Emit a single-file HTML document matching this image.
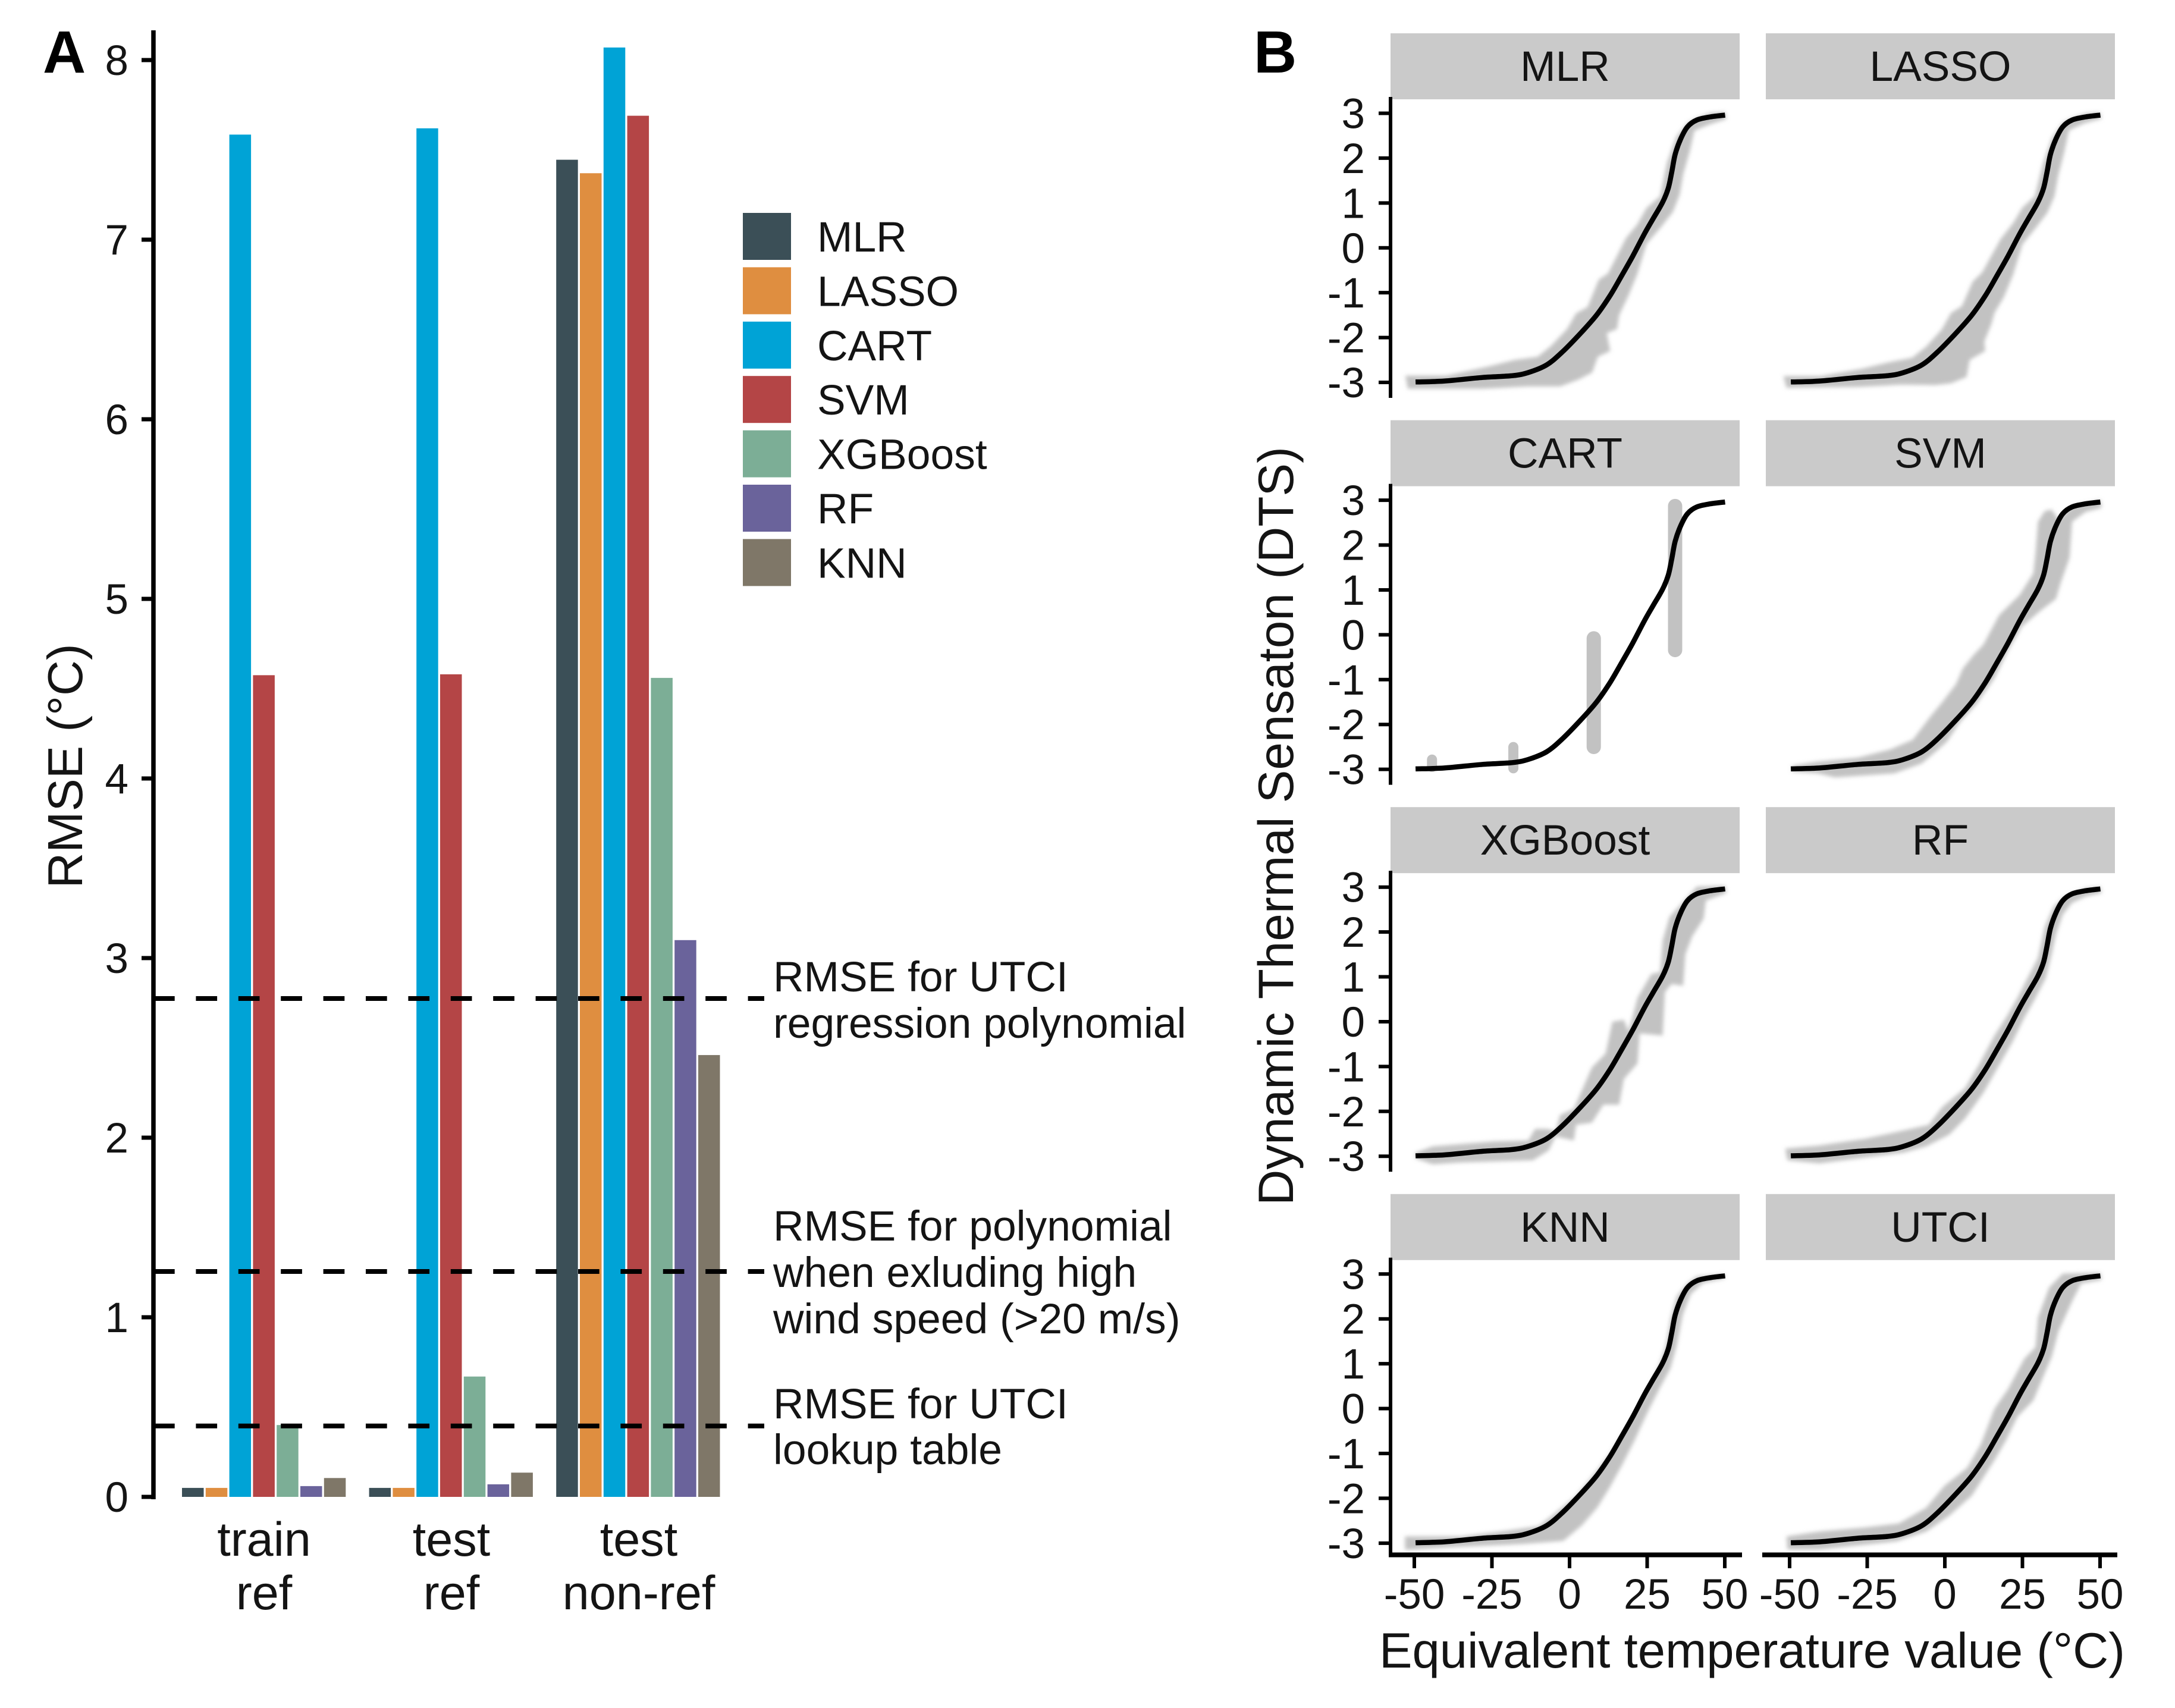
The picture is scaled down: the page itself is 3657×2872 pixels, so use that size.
<!DOCTYPE html>
<html lang="en">
<head>
<meta charset="utf-8">
<title>RMSE by model and dynamic thermal sensation panels</title>
<style>
html,body{margin:0;padding:0;background:#fff;}
svg{display:block;}
text{font-family:"Liberation Sans",sans-serif;fill:#141414;}
</style>
</head>
<body>
<svg id="fig" xmlns="http://www.w3.org/2000/svg" width="3657" height="2872" viewBox="0 0 3657 2872">
  <defs>
    <filter id="soft" x="-10%" y="-10%" width="120%" height="120%"><feGaussianBlur stdDeviation="3.5"/></filter>
  </defs>
  <rect width="3657" height="2872" fill="#fff"/>
  <text x="72" y="122" font-size="100" font-weight="bold" style="fill:#000">A</text>
  <text x="2108" y="122" font-size="100" font-weight="bold" style="fill:#000">B</text>
  <text transform="translate(138,1288) rotate(-90)" text-anchor="middle" font-size="83">RMSE (°C)</text>
  <g id="bars"></g>
  <g id="aAxis"></g>
  <g id="refs"></g>
  <g font-size="81" text-anchor="middle">
    <text x="444" y="2616">train</text>
    <text x="444" y="2706">ref</text>
    <text x="759" y="2616">test</text>
    <text x="759" y="2706">ref</text>
    <text x="1074" y="2616">test</text>
    <text x="1074" y="2706">non-ref</text>
  </g>
  <g font-size="71.4">
    <text x="1300" y="1667">RMSE for UTCI</text>
    <text x="1300" y="1745">regression polynomial</text>
    <text x="1300" y="2086">RMSE for polynomial</text>
    <text x="1300" y="2164">when exluding high</text>
    <text x="1300" y="2242">wind speed (&gt;20 m/s)</text>
    <text x="1300" y="2385">RMSE for UTCI</text>
    <text x="1300" y="2462">lookup table</text>
  </g>
  <g id="legend"></g>
  <g id="panels"></g>
  <text transform="translate(2174,1389) rotate(-90)" text-anchor="middle" font-size="83.6">Dynamic Thermal Sensaton (DTS)</text>
  <text x="2946" y="2804" text-anchor="middle" font-size="83.2">Equivalent temperature value (°C)</text>
</svg>
<script>
// Panel A data
const modelNames = ["MLR","LASSO","CART","SVM","XGBoost","RF","KNN"];
const modelColors = ["#3b4f57","#df8e40","#00a3d6","#b44546","#7cae96","#6a639b","#7f7768"];
const trainRef = [0.05,0.05,7.585,4.575,0.40,0.06,0.105];
const testRef = [0.05,0.05,7.62,4.58,0.67,0.07,0.135];
const testNonRef = [7.445,7.37,8.07,7.69,4.56,3.10,2.46];
const rmseTicks = [0,1,2,3,4,5,6,7,8];
const refLineValues = [2.775,1.255,0.395];

// Panel B data
const panelNames = ["MLR","LASSO","CART","SVM","XGBoost","RF","KNN","UTCI"];
const dtsTicks = [-3,-2,-1,0,1,2,3];
const tempTicks = [-50,-25,0,25,50];
const curveT = [-49.6,-40.4,-28,-18.4,-13.3,-7.4,-2.3,3.6,8.7,13.1,16.8,20.4,24.1,27,30,31.8,32.9,34,35.8,38,41,45.4,50.1];
const curveV = [-2.99,-2.97,-2.89,-2.85,-2.78,-2.61,-2.32,-1.9,-1.5,-1.06,-0.62,-0.18,0.31,0.66,1.02,1.33,1.68,2.08,2.43,2.7,2.85,2.92,2.96];

const mlrHullT = [-52.9,-39.7,-26.5,-17.7,-10.3,-6,-0.8,2.1,5.8,9.4,12.4,18.2,21.9,24.8,29.2,31.4,34.4,38,41,45.4,50.1,50.5,45.4,40.2,38.8,36.6,35.5,33.3,29.2,24.8,21.9,19,16,15.3,12,13.1,9.1,7.3,2.8,-3,-13.3,-28,-52.1];
const mlrHullV = [-2.85,-2.85,-2.65,-2.5,-2.43,-2.19,-1.81,-1.46,-1.32,-0.71,-0.57,0.22,0.53,0.89,1.15,1.9,2.48,2.79,2.9,3.01,3.03,2.87,2.76,2.61,2.17,1.64,1.19,0.8,0.44,0.09,-0.57,-1.06,-1.5,-1.81,-1.9,-2.3,-2.43,-2.78,-2.94,-3.09,-3.09,-3.14,-3.14];
const lassoHullT = [-52,-40,-27,-18,-10.5,-6,-1,2,5.5,9,12,18,22,25,29,31.5,34.5,38,41,45.4,50,50.4,45,40,38.5,36.5,35.3,33,29,25,22,19,16,15,12.7,13,8,7,2,-3,-14,-28,-51];
const lassoHullV = [-2.86,-2.86,-2.7,-2.55,-2.45,-2.2,-1.82,-1.45,-1.3,-0.75,-0.55,0.2,0.55,0.9,1.15,1.85,2.45,2.8,2.9,3,3.02,2.88,2.78,2.62,2.15,1.6,1.15,0.78,0.42,0.08,-0.6,-1.1,-1.45,-1.7,-2.09,-2.3,-2.5,-2.88,-3.02,-3.06,-3.05,-3.1,-3.12];
const svmHullT = [-49.2,-41.1,-28,-17.7,-10.3,-4.5,-0.8,3.6,5.8,9.4,12.4,17.5,24.1,28.5,29.2,30,32.2,34.4,36.6,41,50.1,50.5,45.4,41,40.2,37.3,35.8,30.7,24.8,20.4,16,10.2,5,0.6,-3,-7.4,-16.2,-35.3,-41.1,-49.2];
const svmHullV = [-2.92,-2.83,-2.74,-2.56,-2.34,-1.81,-1.5,-1.1,-0.75,-0.44,-0.22,0.44,0.89,1.37,1.81,2.52,2.76,2.79,2.57,2.87,3.01,2.83,2.74,2.52,1.72,1.15,0.8,0.53,0.18,-0.35,-0.97,-1.55,-1.94,-2.39,-2.61,-2.87,-3.09,-3.18,-3.09,-3.05];
const xgbHullT = [-49.6,-44.1,-24.3,-13.3,-11.1,-7.4,-4.5,-3,1.4,7.2,11.6,13.8,17.5,19,21.9,23.4,26.3,29.2,30,32.2,35.8,41,50.1,50.5,43.9,43.2,39.5,37.3,36.6,32.9,30.7,30,22.6,21.9,17.5,16,10.9,7.2,2.1,1.4,-4.5,-6.7,-11.8,-35.3,-44.1,-49.6];
const xgbHullV = [-2.92,-2.78,-2.67,-2.65,-2.39,-2.39,-2.43,-2.08,-1.94,-1.02,-0.71,0,0.04,-0.22,0.53,0.71,1.06,1.11,1.81,2.34,2.61,3.01,3.03,2.87,2.7,2.3,1.9,1.5,0.8,0.84,0.66,-0.31,-0.26,-0.93,-1.28,-1.85,-1.85,-2.25,-2.3,-2.65,-2.56,-2.87,-3.09,-3.14,-3.18,-3.05];
const rfHullT = [-51.4,-40.4,-25.7,-16.2,-5.2,-0.8,6.5,10.9,16,19.7,23.4,27,30,32.2,35.1,38.8,45.4,50.1,50.5,45.4,41,38,35.8,34.4,32.5,28.5,25.6,21.9,17.5,12.4,6.5,1.4,-6,-13.3,-28,-40.4,-50.7];
const rfHullV = [-2.83,-2.76,-2.61,-2.47,-2.3,-1.9,-1.48,-0.97,-0.31,0.09,0.53,1.02,1.42,2.12,2.57,2.81,2.98,3.01,2.87,2.79,2.65,2.39,1.95,1.5,0.97,0.44,0.09,-0.44,-0.97,-1.59,-2.16,-2.52,-2.78,-2.92,-3.05,-3.16,-3.09];
const knnHullT = [-53,-35,-20,-10,-5,2,8,13,17,21,25,29,31,32.5,34.5,38,41,50,50,43,39,36.5,34.5,32.5,29,25,21,17,13,9,4,-2,-15,-35,-53];
const knnHullV = [-2.85,-2.85,-2.72,-2.62,-2.35,-1.95,-1.45,-1,-0.55,-0.1,0.4,1,1.4,2,2.5,2.8,2.95,3,2.9,2.8,2.55,2.1,1.4,0.9,0.45,-0.1,-0.7,-1.25,-1.75,-2.2,-2.6,-2.95,-3.02,-3.08,-3.15];
const utciHullT = [-51,-40.4,-25.7,-14.8,-6,-0.1,7.2,11.6,16,20.4,25.6,29.2,30,33.6,38,50.1,50.5,43.9,41,36.6,34.4,31.4,28.5,23.4,19.7,16,8.7,1.4,-6,-15.5,-28,-40.4,-50.7];
const utciHullV = [-2.85,-2.74,-2.65,-2.56,-2.21,-1.72,-1.32,-0.79,0,0.44,1.11,1.37,2.03,2.7,3.01,3.03,2.87,2.79,2.39,1.72,1.15,0.66,0.18,-0.18,-0.71,-1.15,-1.94,-2.39,-2.74,-2.96,-3.05,-3.14,-3.14];
const cartStemT = [-44.3,-18.1,7.8,34];
const cartStemLo = [-3.06,-3.09,-2.66,-0.5];
const cartStemHi = [-2.67,-2.39,0.08,3.03];

const NS = "http://www.w3.org/2000/svg";
function svgEl(parent, tag, attrs, txt) {
  const el = document.createElementNS(NS, tag);
  for (const k in attrs) el.setAttribute(k, attrs[k]);
  if (txt !== undefined) el.textContent = txt;
  parent.appendChild(el);
  return el;
}
function slug(s) { return String(s).toLowerCase().replace(/[^a-z0-9]+/g, "-"); }
function smoothPath(px, py) {
  let d = "M" + px[0].toFixed(1) + "," + py[0].toFixed(1);
  for (let i = 0; i < px.length - 1; i++) {
    const i0 = Math.max(i - 1, 0), i3 = Math.min(i + 2, px.length - 1);
    const c1x = px[i] + (px[i + 1] - px[i0]) / 6, c1y = py[i] + (py[i + 1] - py[i0]) / 6;
    const c2x = px[i + 1] - (px[i3] - px[i]) / 6, c2y = py[i + 1] - (py[i3] - py[i]) / 6;
    d += "C" + c1x.toFixed(1) + "," + c1y.toFixed(1) + " " + c2x.toFixed(1) + "," + c2y.toFixed(1) + " " + px[i + 1].toFixed(1) + "," + py[i + 1].toFixed(1);
  }
  return d;
}

// Panel A axis functions
const aY = v => 2517 - 302 * v;
const groupStart = g => 306 + 314.6 * g;
const barX = (g, i) => groupStart(g) + 39.8 * i;
const BAR_W = 36.5;

const barsG = document.getElementById("bars");
[trainRef, testRef, testNonRef].forEach((series, g) => {
  series.forEach((val, i) => {
    const r = svgEl(barsG, "rect", {x: barX(g, i), y: aY(val), width: BAR_W, height: aY(0) - aY(val), fill: modelColors[i]});
    
    
  });
});

const aAxisG = document.getElementById("aAxis");
const aLine = svgEl(aAxisG, "line", {x1: 258, x2: 258, y1: 51, y2: 2521, stroke: "#000", "stroke-width": 7.5});


rmseTicks.forEach(t => {
  const tk = svgEl(aAxisG, "line", {x1: 238, x2: 258, y1: aY(t), y2: aY(t), stroke: "#000", "stroke-width": 7});
  
  
  const lb = svgEl(aAxisG, "text", {x: 216, y: aY(t) + 25, "text-anchor": "end", "font-size": 71}, String(t));
  
  
});

const refsG = document.getElementById("refs");
refLineValues.forEach(v => {
  const l = svgEl(refsG, "line", {x1: 258, x2: 1285, y1: aY(v), y2: aY(v), stroke: "#000", "stroke-width": 8, "stroke-dasharray": "35.7 35.7"});
  
  
});

const legendG = document.getElementById("legend");
modelNames.forEach((n, i) => {
  const y = 358 + 91.4 * i;
  const s = svgEl(legendG, "rect", {x: 1249, y: y, width: 81, height: 79, fill: modelColors[i]});
  
  
  const t = svgEl(legendG, "text", {x: 1374, y: y + 65, "font-size": 71.4}, n);
  
  
});

// Panel B axis functions
const stripTop = r => 56 + 650.6 * r;
const bY = (r, v) => stripTop(r) + 134.5 + (3 - v) * 75.42;
const colZero = c => 2639 + 631 * c;
const bX = (c, t) => colZero(c) + 5.22 * t;

const hullT = [mlrHullT, lassoHullT, null, svmHullT, xgbHullT, rfHullT, knnHullT, utciHullT];
const hullV = [mlrHullV, lassoHullV, null, svmHullV, xgbHullV, rfHullV, knnHullV, utciHullV];

const panelsG = document.getElementById("panels");
panelNames.forEach((name, idx) => {
  const c = idx % 2, r = Math.floor(idx / 2);
  const g = svgEl(panelsG, "g", {});
  
  

  const strip = svgEl(g, "rect", {x: 2338 + 631 * c, y: stripTop(r), width: 587, height: 111, fill: "#cacaca"});
  
  
  const stripLabel = svgEl(g, "text", {x: 2631.5 + 631 * c, y: stripTop(r) + 80, "text-anchor": "middle", "font-size": 71.4}, name);
  
  

  if (hullT[idx]) {
    const pts = hullT[idx].map((t, i) => bX(c, t).toFixed(1) + "," + bY(r, hullV[idx][i]).toFixed(1)).join(" ");
    const hull = svgEl(g, "polygon", {points: pts, fill: "#c2c2c2", filter: "url(#soft)"});
    
    
  } else {
    cartStemT.forEach((t, i) => {
      const w = i < 2 ? 17 : 24;
      const stem = svgEl(g, "line", {x1: bX(c, t), x2: bX(c, t), y1: bY(r, cartStemHi[i]) + w / 2, y2: bY(r, cartStemLo[i]) - w / 2, stroke: "#c2c2c2", "stroke-width": w, "stroke-linecap": "round"});
      
      
    });
  }

  const curve = svgEl(g, "path", {d: smoothPath(curveT.map(t => bX(c, t)), curveV.map(v => bY(r, v))), fill: "none", stroke: "#000", "stroke-width": 8.5, "stroke-linejoin": "round", "stroke-linecap": "butt"});
  
  

  if (c === 0) {
    const axis = svgEl(g, "line", {x1: 2338, x2: 2338, y1: stripTop(r) + 107, y2: r === 3 ? bY(r, -3) + 23 : bY(r, -3) + 26, stroke: "#000", "stroke-width": 6});
    
    
    dtsTicks.forEach(v => {
      const tk = svgEl(g, "line", {x1: 2318, x2: 2338, y1: bY(r, v), y2: bY(r, v), stroke: "#000", "stroke-width": 6});
      
      
      const lb = svgEl(g, "text", {x: 2295, y: bY(r, v) + 25, "text-anchor": "end", "font-size": 71}, String(v));
      
      
    });
  }
  if (r === 3) {
    const xa = svgEl(g, "line", {x1: 2335 + 628 * c, x2: 2929 + 631 * c, y1: 2614.5, y2: 2614.5, stroke: "#000", "stroke-width": 8});
    
    
    tempTicks.forEach(t => {
      const tk = svgEl(g, "line", {x1: bX(c, t), x2: bX(c, t), y1: 2614.5, y2: 2637, stroke: "#000", "stroke-width": 6});
      
      
      const lb = svgEl(g, "text", {x: bX(c, t), y: 2705, "text-anchor": "middle", "font-size": 71}, String(t));
      
      
    });
  }
});
</script>
</body>
</html>
